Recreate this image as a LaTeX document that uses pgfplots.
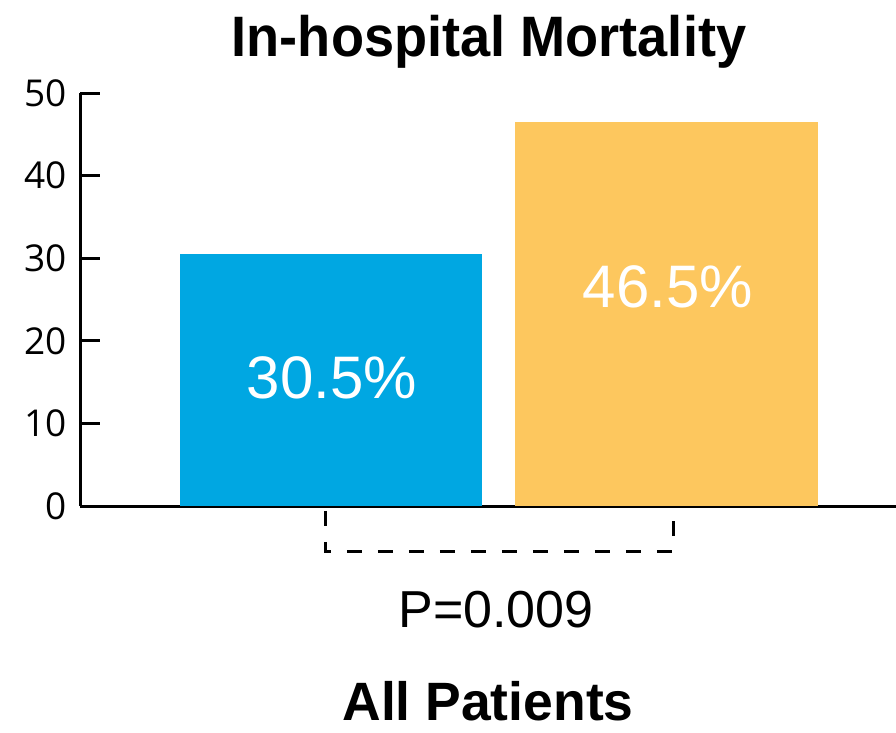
\documentclass[border=0pt]{standalone}
\usepackage{fontspec}
\setmainfont{Liberation Sans}
\newfontfamily\tickfont{Open Sans}
\newfontfamily\condfont[FakeStretch=0.95]{Liberation Sans}
\newfontfamily\condfontb[FakeStretch=0.99]{Liberation Sans}
\usepackage{pgfplots}
\pgfplotsset{compat=1.18}
\definecolor{barblue}{RGB}{0,167,226}
\definecolor{baryellow}{RGB}{253,199,94}

\begin{document}
\begin{tikzpicture}
\path[use as bounding box] (0,0) rectangle (896pt,732pt);

% Title and labels
\node at (489pt,690pt) {\condfont\bfseries\fontsize{57}{60}\selectfont In-hospital Mortality};
\node at (496pt,122pt) {\fontsize{52}{54}\selectfont P=0.009};
\node[inner sep=0pt] at (488pt,31pt) {\condfontb\bfseries\fontsize{54}{56}\selectfont All Patients};

\begin{axis}[
    at={(80pt,226pt)}, anchor=south west,
    scale only axis,
    width=816pt, height=413pt,
    xmin=80, xmax=896,
    ymin=0, ymax=50,
    axis x line=bottom, axis y line=left,
    axis line style={-, line width=3pt},
    xtick=\empty,
    ytick={0,10,...,50},
    tick align=inside,
    major tick length=20pt,
    ytick style={line width=3pt, black},
    /pgf/number format/assume math mode=true,
    yticklabel style={font=\tickfont\fontsize{37}{38}\selectfont, xshift=-10pt},
    clip=false,
]
\addplot[ybar, bar shift=0pt, bar width=302, fill=barblue, draw=none] coordinates {(331,30.5)};
\addplot[ybar, bar shift=0pt, bar width=303, fill=baryellow, draw=none] coordinates {(666.5,46.5)};

\node[text=white] at (axis cs:332,15.5) {\fontsize{60}{62}\selectfont 30.5\%};
\node[text=white] at (axis cs:668,26.5) {\fontsize{60}{62}\selectfont 46.5\%};

% significance bracket
\draw[line width=3pt, dash pattern=on 15pt off 16pt]
    (axis cs:325,-0.6) -- (axis cs:325,-5.45) -- (axis cs:673,-5.45) -- (axis cs:673,-0.6);
\end{axis}
\end{tikzpicture}
\end{document}
